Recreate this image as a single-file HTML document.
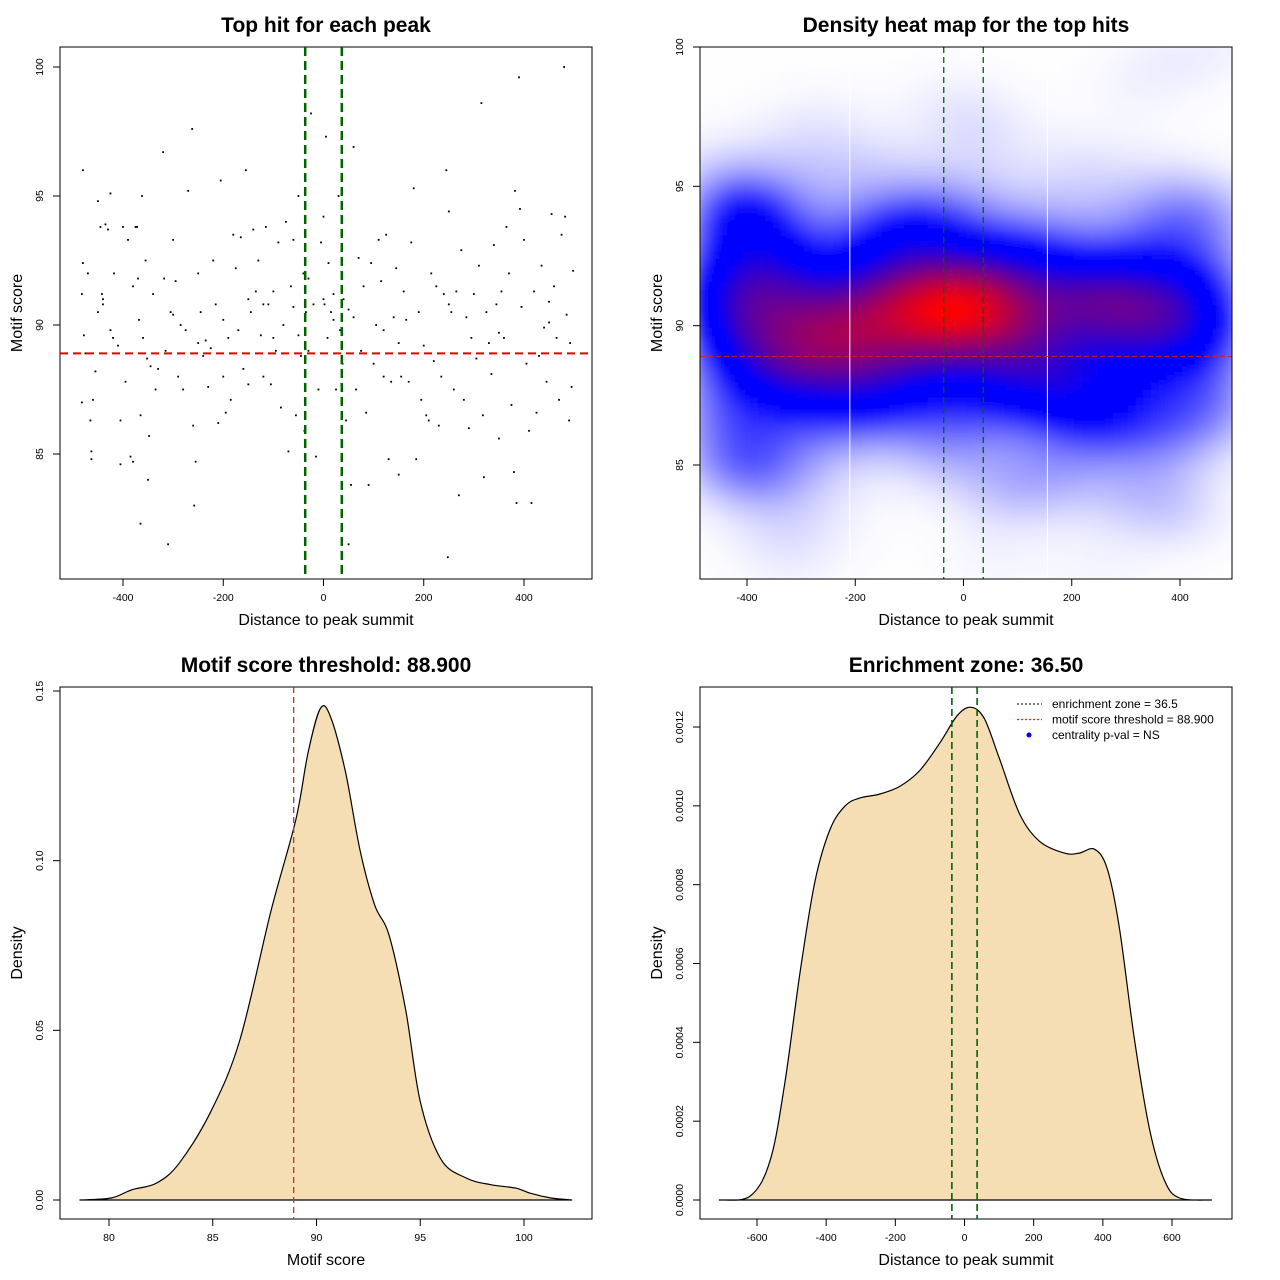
<!DOCTYPE html>
<html><head><meta charset="utf-8"><style>
html,body{margin:0;padding:0;background:#fff;}
svg{display:block;font-family:"Liberation Sans",sans-serif;}
</style></head><body>
<svg id="c" width="1280" height="1280" viewBox="0 0 1280 1280" xmlns="http://www.w3.org/2000/svg">
<defs><filter id="blur" x="-5%" y="-5%" width="110%" height="110%"><feGaussianBlur stdDeviation="4"/></filter>
<clipPath id="clip2"><rect x="700" y="47" width="532" height="532"/></clipPath></defs>
</svg>
<script>
// ---- data ----
const hitDist=[-480,-480,-482,-478,-475,-482,-470,-465,-463,-463,-460,-455,-450,-450,-445,-442,-440,-435,-430,-425,-425,-420,-418,-410,-405,-405,-400,-395,-390,-385,-380,-375,-372,-370,-368,-365,-365,-362,-360,-355,-352,-350,-348,-345,-340,-335,-330,-320,-318,-315,-310,-305,-300,-295,-290,-285,-280,-275,-270,-262,-260,-258,-255,-250,-245,-240,-235,-230,-225,-220,-215,-210,-205,-200,-195,-190,-185,-180,-175,-170,-165,-160,-155,-150,-145,-140,-135,-130,-125,-120,-115,-110,-105,-100,-95,-90,-85,-80,-75,-70,-65,-60,-55,-50,-45,-40,-38,-35,-30,-25,-20,-15,-10,-5,0,2,5,8,10,15,20,25,30,33,38,40,45,50,55,60,65,70,75,80,85,90,95,100,105,110,115,120,125,130,135,140,145,150,155,160,165,170,175,180,185,190,195,200,205,210,215,220,225,230,235,240,245,248,250,255,260,265,270,275,280,285,290,295,300,305,310,315,318,320,325,330,335,340,345,350,355,360,365,370,375,380,382,385,390,392,395,400,405,410,415,420,425,430,435,440,445,450,455,460,465,470,475,480,482,485,490,492,495,498,-440,-300,-250,-150,-50,50,150,250,350,450,-380,-200,-120,0,20,-30,60,120,-100,-60];
const hitScore=[96,92.4,91.2,89.6,88.9,87,92,86.3,85.1,84.8,87.1,88.2,94.8,90.5,93.8,91.2,90.8,93.9,93.7,95.1,89.8,89.5,92,89.2,86.3,84.6,93.8,87.8,93.3,84.9,84.7,93.8,93.8,91.8,90.2,86.5,82.3,95,89.5,92.5,88.7,84,85.7,88.4,91.2,87.5,88.3,96.7,91.8,89,81.5,90.5,93.3,91.7,88,90,87.5,89.8,95.2,97.6,86.1,83,84.7,92,90.5,88.8,89.4,87.6,89.1,92.5,90.8,86.2,95.6,88,86.6,89.5,87.1,93.5,92.2,89.8,93.4,88.3,96,87.7,90.5,93.7,91.3,92.5,89.6,88,93.8,90.8,87.7,91.3,89,93.2,86.8,90,94,85.1,91.5,93.3,86.5,95,88.8,92,85.9,90.5,89,98.2,90.8,84.9,87.5,93.2,94.2,90.8,97.3,89.5,92.4,90.5,91.2,87.5,95,89.8,88.5,91,86.3,81.5,83.8,96.9,87.5,92.6,89,91.5,86.6,83.8,92.4,88.5,90,93.3,91.7,88,93.5,84.8,87.8,90.3,92.2,84.2,88,91.3,90.2,87.8,93.2,95.3,84.8,90.5,87.1,89.2,86.5,86.3,92,88.6,91.5,86.1,88,91.2,96,81,94.4,90.5,87.5,91.3,83.4,92.9,87.1,90.3,86,89.5,91.2,88.7,92.3,98.6,86.5,84.1,90.5,89.3,88.1,93.1,90.8,85.6,91.3,89.5,93.8,92,86.9,84.3,95.2,83.1,99.6,94.5,90.7,93.3,88.5,85.9,83.1,91.3,86.6,88.8,92.3,89.9,87.8,90.9,94.3,91.5,89.5,87.1,93.5,100,94.2,90.4,86.3,89.3,87.6,92.1,91,90.4,89.3,91,89.6,90.6,89.3,90.8,89.7,90.1,91.5,90.2,90.8,91,90.2,91.8,90.3,89.8,89.5,90.7];
const scoreDensX=[78.6,80.1,81.1,82.3,83.4,84.9,86.3,87.8,89.0,89.6,90.2,90.7,91.4,92.1,92.8,93.5,94.3,95.0,96.0,97.2,98.4,99.6,100.3,101.3,102.3];
const scoreDensY=[0,0.0006,0.003,0.005,0.011,0.026,0.047,0.085,0.112,0.132,0.145,0.142,0.126,0.103,0.087,0.078,0.056,0.029,0.012,0.0065,0.0045,0.0035,0.002,0.0006,0];
const distDensX=[-709,-620,-562,-519,-475,-432,-389,-345,-302,-244,-186,-129,-71,-20,20,58,101,159,217,289,332,376,413,448,491,535,578,622,714];
const distDensY=[0,0.00001,0.0001,0.0003,0.00058,0.00081,0.00094,0.001,0.00102,0.00103,0.00105,0.00109,0.00116,0.00123,0.00125,0.00122,0.00112,0.00098,0.00091,0.00088,0.00088,0.00089,0.00084,0.00069,0.00041,0.00018,0.00005,0.000005,0];
const threshold=88.9, zone=36.5;
const p1XTicks=[-400,-200,0,200,400], p1YTicks=[85,90,95,100];
const p3XTicks=[80,85,90,95,100], p3YTicks=[0,0.05,0.10,0.15];
const p4XTicks=[-600,-400,-200,0,200,400,600], p4YTicks=[0,0.0002,0.0004,0.0006,0.0008,0.0010,0.0012];

const svg=document.getElementById('c');const NS='http://www.w3.org/2000/svg';
function el(t,a,p){const e=document.createElementNS(NS,t);for(const k in a)e.setAttribute(k,a[k]);(p||svg).appendChild(e);return e;}
function txt(s,a,p){const e=el('text',a,p);e.textContent=s;return e;}
function lin(d0,d1,r0,r1){return v=>r0+(v-d0)*(r1-r0)/(d1-d0);}

function frame(x0,y0,w,h,title,xl,yl,xt,yt,fx,fy,fmtX,fmtY,name){
  const g=el('g',{});
  
  const r=el('rect',{x:x0,y:y0,width:w,height:h,fill:'none',stroke:'#000','stroke-width':1},g);
  
  const t=txt(title,{x:x0+w/2,y:y0-15,'text-anchor':'middle','font-size':21,'font-weight':'bold'},g);
  
  const a=txt(xl,{x:x0+w/2,y:y0+h+46,'text-anchor':'middle','font-size':16},g);
  
  const b=txt(yl,{x:0,y:0,'text-anchor':'middle','font-size':16,transform:`translate(${x0-38},${y0+h/2}) rotate(-90)`},g);
  
  xt.forEach(v=>{const px=fx(v);el('line',{x1:px,x2:px,y1:y0+h,y2:y0+h+7,stroke:'#000'},g);
    const l=txt(fmtX(v),{x:px,y:y0+h+22,'text-anchor':'middle','font-size':10.5},g);
    });
  yt.forEach(v=>{const py=fy(v);el('line',{x1:x0,x2:x0-7,y1:py,y2:py,stroke:'#000'},g);
    const l=txt(fmtY(v),{x:0,y:0,'text-anchor':'middle','font-size':10.5,transform:`translate(${x0-17},${py}) rotate(-90)`},g);
    });
  return g;
}
// ---- Panel 1 ----
const f1x=lin(-400,400,123,524), f1y=lin(100,85,67,454);
const g1=frame(60,47,532,532,'Top hit for each peak','Distance to peak summit','Motif score',p1XTicks,p1YTicks,f1x,f1y,v=>String(v),v=>String(v),'scatter-panel');
hitDist.forEach((d,i)=>{const p=el('rect',{x:f1x(d)-0.9,y:f1y(hitScore[i])-0.9,width:1.8,height:1.8,fill:'#000'},g1);
  });
let l=el('line',{x1:60,x2:592,y1:f1y(threshold),y2:f1y(threshold),stroke:'#e00000','stroke-width':2,'stroke-dasharray':'8,5'},g1);

[-zone,zone].forEach(z=>{const q=el('line',{x1:f1x(z),x2:f1x(z),y1:47,y2:579,stroke:'#006400','stroke-width':2.5,'stroke-dasharray':'9,5'},g1);
  });
// ---- Panel 2 heatmap ----
const f2x=lin(-400,400,747,1180), f2y=lin(100,85,47,465);
const g2=frame(700,47,532,532,'Density heat map for the top hits','Distance to peak summit','Motif score',p1XTicks,p1YTicks,f2x,f2y,v=>String(v),v=>String(v),'heatmap-panel');
const hm=el('g',{'clip-path':'url(#clip2)'},g2);

const hg=el('g',{filter:'url(#blur)'},hm);
const N=70,cw=540/N;const bx=80,by=1.1;let grid=[],mx=0;
for(let i=0;i<N;i++){grid[i]=[];for(let j=0;j<N;j++){const px=696+(i+0.5)*cw,py=43+(j+0.5)*cw;
  const dx=(px-964)/0.5413,dy=90-(py-326)/27.9;let s=0;
  for(let k=0;k<hitDist.length;k++){const a=(hitDist[k]-dx)/bx,b=(hitScore[k]-dy)/by;s+=Math.exp(-0.5*(a*a+b*b));}
  grid[i][j]=s;if(s>mx)mx=s;}}
function col(t){let r,g,b;if(t<0.5){const u=Math.pow(t/0.5,1.6);r=255*(1-u);g=255*(1-u);b=255;}else if(t<0.58){r=0;g=0;b=255;}else{const u=Math.min(1,Math.pow((t-0.58)/0.42,0.9));r=255*u;g=0;b=255*(1-u);}return `rgb(${r|0},${g|0},${b|0})`;}
for(let i=0;i<N;i++)for(let j=0;j<N;j++){el('rect',{x:696+i*cw,y:43+j*cw,width:cw+0.6,height:cw+0.6,fill:col(grid[i][j]/mx)},hg);}
[-210,155].forEach(v=>{el('line',{x1:f2x(v),x2:f2x(v),y1:47,y2:579,stroke:'#fff','stroke-width':1},hm);});
l=el('line',{x1:700,x2:1232,y1:f2y(threshold),y2:f2y(threshold),stroke:'#d02020','stroke-width':1,'stroke-dasharray':'5,3'},hm);

[-zone,zone].forEach(z=>{const q=el('line',{x1:f2x(z),x2:f2x(z),y1:47,y2:579,stroke:'#006400','stroke-width':1.3,'stroke-dasharray':'6,4'},hm);
  });
el('rect',{x:700,y:47,width:532,height:532,fill:'none',stroke:'#000'},g2);
// ---- Panel 3 ----
const f3x=lin(80,100,109,524), f3y=lin(0,0.15,1200,691);
const g3=frame(60,687,532,532,'Motif score threshold: 88.900','Motif score','Density',p3XTicks,p3YTicks,f3x,f3y,v=>String(v),v=>v.toFixed(2),'score-density-panel');
function area(xs,ys,fx,fy,g,name){
  const P=xs.map((x,i)=>[fx(x),fy(ys[i])]);
  let d=`M${P[0][0]},${fy(0)} L${P[0][0].toFixed(1)},${P[0][1].toFixed(1)}`;
  for(let i=0;i<P.length-1;i++){const p0=P[Math.max(0,i-1)],p1=P[i],p2=P[i+1],p3=P[Math.min(P.length-1,i+2)];
    const c1=[p1[0]+(p2[0]-p0[0])/6,p1[1]+(p2[1]-p0[1])/6],c2=[p2[0]-(p3[0]-p1[0])/6,p2[1]-(p3[1]-p1[1])/6];
    d+=` C${c1[0].toFixed(1)},${c1[1].toFixed(1)} ${c2[0].toFixed(1)},${c2[1].toFixed(1)} ${p2[0].toFixed(1)},${p2[1].toFixed(1)}`;}
  d+=` L${P[P.length-1][0]},${fy(0)} Z`;
  const p=el('path',{d:d,fill:'#f5deb3',stroke:'#000','stroke-width':1.2,'stroke-linejoin':'round'},g);}
area(scoreDensX,scoreDensY,f3x,f3y,g3,'score-density-curve');
l=el('line',{x1:f3x(threshold),x2:f3x(threshold),y1:687,y2:1219,stroke:'#c03030','stroke-width':1.3,'stroke-dasharray':'6,4'},g3);

// ---- Panel 4 ----
const f4x=lin(-600,600,757,1172), f4y=lin(0,0.0012,1200,727);
const g4=frame(700,687,532,532,'Enrichment zone: 36.50','Distance to peak summit','Density',p4XTicks,p4YTicks,f4x,f4y,v=>String(v),v=>v.toFixed(4),'distance-density-panel');
area(distDensX,distDensY,f4x,f4y,g4,'distance-density-curve');
[-zone,zone].forEach(z=>{const q=el('line',{x1:f4x(z),x2:f4x(z),y1:687,y2:1219,stroke:'#006400','stroke-width':1.6,'stroke-dasharray':'7,4'},g4);
  });
const lg=el('g',{},g4);
[['enrichment zone = 36.5','#333','line'],['motif score threshold = 88.900','#ff2020','line'],['centrality p-val = NS','#0000ff','dot']].forEach((e,i)=>{
  const y=704+i*15.5;
  if(e[2]==='line')el('line',{x1:1017,x2:1042,y1:y,y2:y,stroke:e[1],'stroke-width':1.2,'stroke-dasharray':'2,2'},lg);
  else el('circle',{cx:1029,cy:y,r:2.5,fill:e[1]},lg);
  const t=txt(e[0],{x:1052,y:y+4,'font-size':12},lg);});
</script>
</body></html>
